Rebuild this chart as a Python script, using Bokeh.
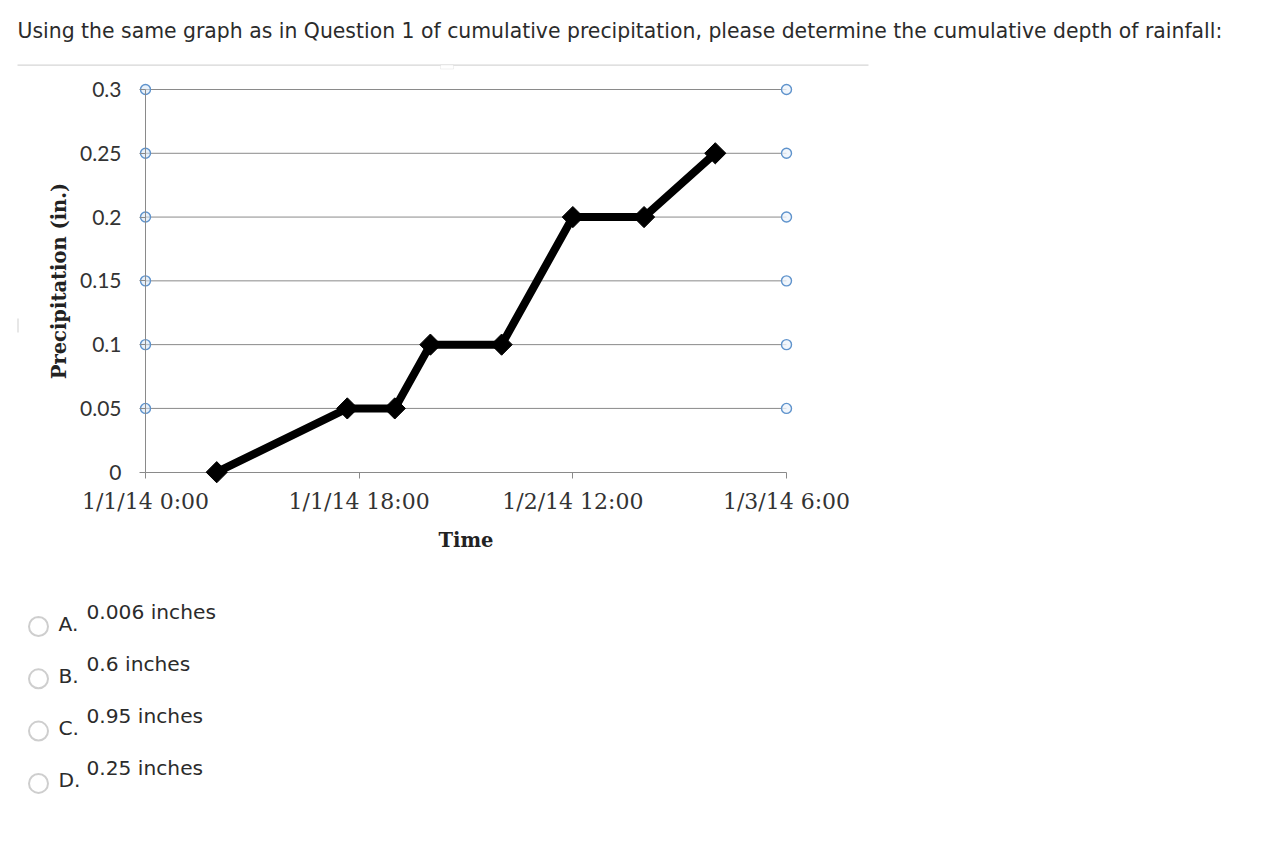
import pandas as pd
from bokeh.plotting import figure
from bokeh.models import Range1d, FixedTicker, Label, BoxAnnotation, LinearAxis
from bokeh.embed import file_html
from bokeh.resources import INLINE

# ---------------- data ----------------
start_time = "2014-01-01 00:00"
times = ["2014-01-01 06:00", "2014-01-01 17:00", "2014-01-01 21:00", "2014-01-02 00:00",
         "2014-01-02 06:00", "2014-01-02 12:00", "2014-01-02 18:00", "2014-01-03 00:00"]
precip = [0, 0.05, 0.05, 0.1, 0.1, 0.2, 0.2, 0.25]

x_tick_hours = [0, 18, 36, 54]
x_tick_labels = ["1/1/14 0:00", "1/1/14 18:00", "1/2/14 12:00", "1/3/14 6:00"]
y_ticks = [0, 0.05, 0.1, 0.15, 0.2, 0.25, 0.3]
y_tick_labels = ["0", "0.05", "0.1", "0.15", "0.2", "0.25", "0.3"]

x_title = "Time"
y_title = "Precipitation (in.)"
question = ("Using the same graph as in Question 1 of cumulative precipitation, "
            "please determine the cumulative depth of rainfall:")
choice_letters = ["A.", "B.", "C.", "D."]
choice_texts = ["0.006 inches", "0.6 inches", "0.95 inches", "0.25 inches"]

hours = [(pd.Timestamp(t) - pd.Timestamp(start_time)).total_seconds() / 3600 for t in times]

# ---------------- layout (canvas px) ----------------
W, H = 1252, 844
X0_PX, X1_PX = 145, 786          # px of first / last x tick
Y0_PX, Y1_PX = 471.7, 89         # px of first / last y tick
xs = (X1_PX - X0_PX) / (x_tick_hours[-1] - x_tick_hours[0])
ys = (Y0_PX - Y1_PX) / (y_ticks[-1] - y_ticks[0])
x_start = x_tick_hours[0] - X0_PX / xs
x_end = x_tick_hours[-1] + (W - X1_PX) / xs
y_start = y_ticks[0] - (H - Y0_PX) / ys
y_end = y_ticks[-1] + Y1_PX / ys
TXT_DY = 8   # label baseline correction


def sx(px):
    return px


def sy(py):
    return H - py


p = figure(width=W, height=H, output_backend="svg", toolbar_location=None,
           x_range=Range1d(x_start, x_end), y_range=Range1d(y_start, y_end),
           x_axis_location=None, y_axis_location=None,
           min_border=0, min_border_left=0, min_border_right=0,
           min_border_top=0, min_border_bottom=0)
p.outline_line_color = None
p.background_fill_color = "white"
p.border_fill_color = "white"
p.xgrid.visible = False
p.ygrid.visible = False

GRAY = "#8a8a8a"

# horizontal grid lines, spanning the time axis extent
grid_y = y_ticks[1:]
p.segment(x0=[x_tick_hours[0]] * len(grid_y), x1=[x_tick_hours[-1]] * len(grid_y),
          y0=grid_y, y1=grid_y, line_color=GRAY, line_width=1)

# selection-handle circles at both ends of the grid lines
p.scatter([x_tick_hours[0]] * len(grid_y), grid_y, size=10, marker="circle",
          fill_color="#d5e5f5", fill_alpha=0.55, line_color="#5f93cc", line_width=1.4)
p.scatter([x_tick_hours[-1]] * len(grid_y), grid_y, size=10, marker="circle",
          fill_color="#eef4fb", fill_alpha=0.8, line_color="#5f93cc", line_width=1.4)

# axes
xa = LinearAxis(fixed_location=0, bounds=(x_tick_hours[0], x_tick_hours[-1]),
                ticker=FixedTicker(ticks=x_tick_hours))
xa.major_label_overrides = dict(zip(x_tick_hours, x_tick_labels))
xa.minor_tick_line_color = None
xa.major_tick_in = 0
xa.major_tick_out = 6
xa.axis_line_color = GRAY
xa.major_tick_line_color = GRAY
xa.major_label_text_font = "DejaVu Serif"
xa.major_label_text_font_size = "22px"
xa.major_label_text_color = "#333333"
xa.major_label_standoff = 11
xa.axis_label = x_title
xa.axis_label_text_font = "DejaVu Serif"
xa.axis_label_text_font_style = "bold"
xa.axis_label_text_font_size = "19.5px"
xa.axis_label_text_color = "#222222"
xa.axis_label_standoff = 11
p.add_layout(xa, "below")

ya = LinearAxis(fixed_location=0, bounds=(y_ticks[0], y_ticks[-1]),
                ticker=FixedTicker(ticks=y_ticks))
ya.major_label_overrides = dict(zip(y_ticks, y_tick_labels))
ya.minor_tick_line_color = None
ya.major_tick_in = 0
ya.major_tick_out = 6
ya.axis_line_color = GRAY
ya.major_tick_line_color = GRAY
ya.major_label_text_font = "Lato"
ya.major_label_text_font_size = "21px"
ya.major_label_text_color = "#333333"
ya.major_label_standoff = 18
ya.axis_label = y_title
ya.axis_label_text_font = "DejaVu Serif"
ya.axis_label_text_font_style = "bold"
ya.axis_label_text_font_size = "19.5px"
ya.axis_label_text_color = "#222222"
ya.axis_label_standoff = 6
p.add_layout(ya, "left")

# data series
ln = p.line(hours, precip, line_color="black", line_width=8, line_join="miter")
mk = p.scatter(hours, precip, marker="square", angle=0.785398, size=15,
               fill_color="black", line_color="black")
ln.level = "overlay"
mk.level = "overlay"

# ---------------- page texts ----------------
p.add_layout(Label(x=sx(17), y=sy(38 - TXT_DY), x_units="screen", y_units="screen",
                   text=question, text_font="DejaVu Sans", text_font_size="20.4px",
                   text_color="#2b2b2b", text_align="left", text_baseline="alphabetic"))


def screen_box(l, r, t, b, **kw):
    return BoxAnnotation(left=sx(l), right=sx(r), top=sy(t), bottom=sy(b),
                         left_units="screen", right_units="screen",
                         top_units="screen", bottom_units="screen", **kw)


# thin frame line under the question
p.add_layout(screen_box(17, 868, 64, 65.2, fill_color="#d6d6d6", fill_alpha=1.0, line_color=None))
p.add_layout(screen_box(440, 453, 64.5, 68.5, fill_color="white", fill_alpha=1.0,
                        line_color="#d0d0d0", line_width=1))
p.add_layout(screen_box(17, 18, 318, 332, fill_color="#d0d0d0", fill_alpha=1.0, line_color=None))

STEP = 52.3
for i, (letter, txt) in enumerate(zip(choice_letters, choice_texts)):
    base = 621 + i * STEP
    cy = base + 5
    p.add_layout(screen_box(28.5, 47.5, cy - 9.5, cy + 9.5, border_radius=10, fill_color=None,
                            line_color="#5e5e5e", line_width=2))
    p.add_layout(Label(x=sx(58), y=sy(base + 10 - TXT_DY), x_units="screen", y_units="screen",
                       text=letter, text_font="DejaVu Sans", text_font_size="20.2px",
                       text_color="#2b2b2b", text_align="left", text_baseline="alphabetic"))
    p.add_layout(Label(x=sx(86), y=sy(base - 2 - TXT_DY), x_units="screen", y_units="screen",
                       text=txt, text_font="DejaVu Sans", text_font_size="20.2px",
                       text_color="#2b2b2b", text_align="left", text_baseline="alphabetic"))

open("out.html", "w").write(file_html(p, INLINE))
